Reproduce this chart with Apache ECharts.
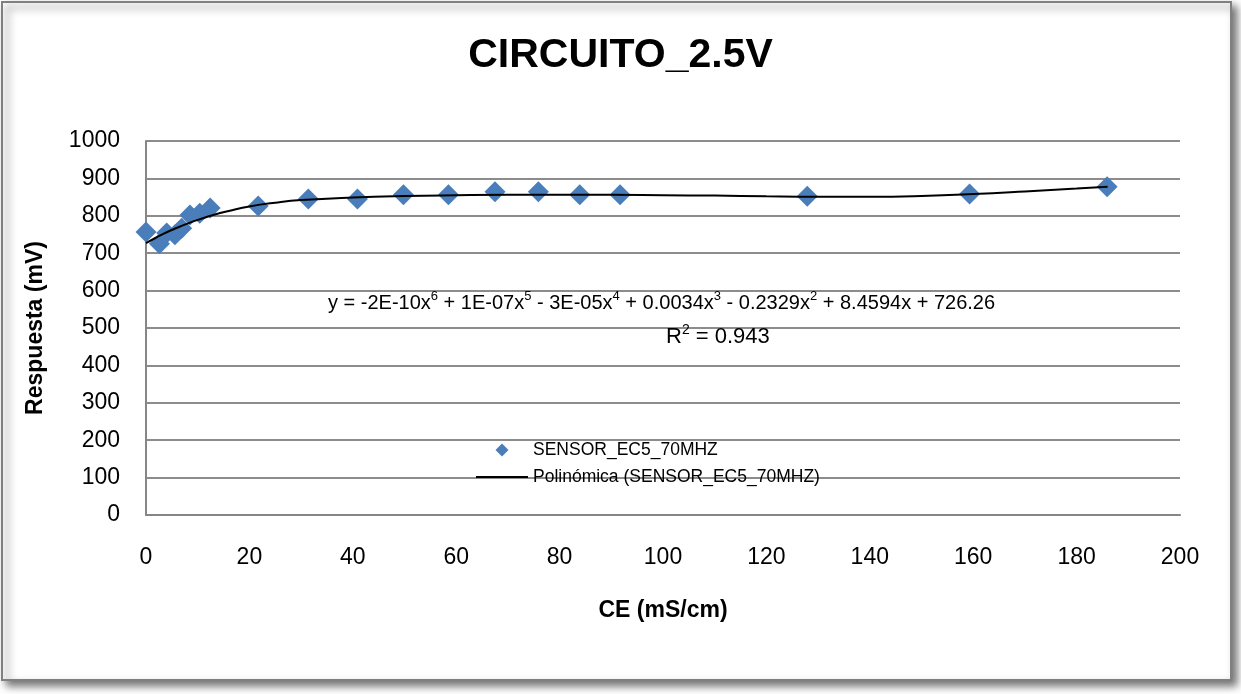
<!DOCTYPE html>
<html>
<head>
<meta charset="utf-8">
<script src="https://cdn.jsdelivr.net/npm/echarts@6/dist/echarts.min.js"></script>
<style>
html,body{margin:0;padding:0;background:#fff;}
#chart{width:1241px;height:694px;}
</style>
</head>
<body>
<div id="chart"></div>
<script>
// ---- data ----
const titleText = 'CIRCUITO_2.5V';
const xAxisName = 'CE (mS/cm)';
const yAxisName = 'Respuesta (mV)';
const seriesName = 'SENSOR_EC5_70MHZ';
const trendName = 'Polinómica (SENSOR_EC5_70MHZ)';
// equation pieces: [text, superscript]
const equationParts = [
  ['y = -2E-10x', '6'], [' + 1E-07x', '5'], [' - 3E-05x', '4'], [' + 0.0034x', '3'],
  [' - 0.2329x', '2'], [' + 8.4594x + 726.26', '']
];
const r2Parts = [['R', '2'], [' = 0.943', '']];

const sensorX = [0, 2.6, 4.0, 5.6, 6.9, 8.5, 10.4, 12.4, 21.7, 31.4, 40.9, 49.8, 58.5, 67.5, 75.9, 83.9, 91.7, 127.9, 159.3, 185.9];
const sensorY = [757, 725, 754, 749, 767, 802, 807, 821, 826, 845, 845, 856, 856, 864, 864, 856, 856, 852, 858, 878];

const trendX = [0, 2, 4, 6, 8, 10, 12, 14, 16, 20, 25, 30, 40, 50, 60, 70, 80, 90, 100, 110, 120, 130, 140, 150, 160, 170, 180, 186];
const trendY = [727, 742, 756, 768, 779, 789, 798, 806, 813, 825, 835, 842, 849, 853, 855, 856, 856, 856, 855, 854, 852, 851, 851, 853, 858, 865, 873, 878];

const xTicks = [0, 20, 40, 60, 80, 100, 120, 140, 160, 180, 200];
const yTicks = [0, 100, 200, 300, 400, 500, 600, 700, 800, 900, 1000];

const FONT = '"Liberation Sans", Arial, sans-serif';
const MARKER = '#4A7EBB';

function richText(parts) {
  return parts.map(p => '{n|' + p[0] + '}' + (p[1] ? '{s|' + p[1] + '}' : '')).join('');
}
function richStyles(size, supSize) {
  return {
    n: {fontFamily: FONT, fontSize: size, fill: '#000', lineHeight: size + 4, verticalAlign: 'bottom'},
    s: {fontFamily: FONT, fontSize: supSize, fill: '#000', lineHeight: size + 4, verticalAlign: 'top', padding: [1, 0, 0, 0]}
  };
}

const chart = echarts.init(document.getElementById('chart'), null, {renderer: 'canvas'});
chart.setOption({
  backgroundColor: '#ffffff',
  animation: false,
  textStyle: {fontFamily: FONT},
  title: {
    text: titleText,
    left: 'center',
    top: 30,
    textStyle: {fontFamily: FONT, fontSize: 41, fontWeight: 'bold', color: '#000'}
  },
  graphic: [
    {
      type: 'rect', z: -10, silent: true,
      shape: {x: 2, y: 2, width: 1229, height: 678},
      style: {fill: '#ffffff', stroke: '#808080', lineWidth: 2,
        shadowColor: 'rgba(0,0,0,0.55)', shadowBlur: 8, shadowOffsetX: 5, shadowOffsetY: 5}
    },
    {
      type: 'text', left: 328, top: 289, z: 10,
      style: {text: richText(equationParts), rich: richStyles(20, 13)}
    },
    {
      type: 'text', left: 666, top: 322, z: 10,
      style: {text: richText(r2Parts), rich: richStyles(22, 14)}
    }
  ],
  legend: {
    orient: 'vertical',
    left: 471,
    top: 436,
    itemWidth: 52,
    itemHeight: 14,
    itemGap: 9,
    data: [
      {name: seriesName, icon: 'path://M0,6.5L0,6.5M52,6.5L52,6.5M26,0L32.5,6.5L26,13L19.5,6.5Z', itemStyle: {color: MARKER, opacity: 1}},
      {name: trendName, icon: 'path://M0,0L0,0M0,5.5L52,5.5L52,7.5L0,7.5ZM52,13L52,13', itemStyle: {color: '#000'}}
    ],
    textStyle: {fontFamily: FONT, fontSize: 17.5, color: '#000'}
  },
  grid: {left: 146, right: 61, top: 141, bottom: 179, containLabel: false},
  xAxis: {
    type: 'value', min: xTicks[0], max: xTicks[xTicks.length - 1], interval: xTicks[1] - xTicks[0],
    name: xAxisName, nameLocation: 'middle', nameGap: 84,
    nameTextStyle: {fontFamily: FONT, fontSize: 23, fontWeight: 'bold', color: '#000'},
    axisLine: {show: true, onZero: false, lineStyle: {color: '#868686', width: 2}},
    axisTick: {show: false},
    splitLine: {show: false},
    axisLabel: {fontFamily: FONT, fontSize: 23, color: '#000', margin: 31, formatter: v => String(v)}
  },
  yAxis: {
    type: 'value', min: yTicks[0], max: yTicks[yTicks.length - 1], interval: yTicks[1] - yTicks[0],
    name: yAxisName, nameLocation: 'middle', nameGap: 99, nameRotate: 90,
    nameTextStyle: {fontFamily: FONT, fontSize: 23, fontWeight: 'bold', color: '#000'},
    axisLine: {show: true, lineStyle: {color: '#868686', width: 2}},
    axisTick: {show: false},
    splitLine: {show: true, lineStyle: {color: '#8c8c8c', width: 2}},
    axisLabel: {fontFamily: FONT, fontSize: 23, color: '#000', margin: 26, formatter: v => String(v)}
  },
  series: [
    {
      name: seriesName,
      type: 'scatter',
      symbol: 'diamond',
      symbolSize: 21,
      itemStyle: {color: MARKER, opacity: 1},
      z: 2,
      data: sensorX.map((x, i) => [x, sensorY[i]])
    },
    {
      name: trendName,
      type: 'line',
      smooth: true,
      showSymbol: false,
      symbol: 'none',
      lineStyle: {color: '#000', width: 2},
      itemStyle: {color: '#000'},
      z: 3,
      data: trendX.map((x, i) => [x, trendY[i]])
    }
  ]
});
</script>
</body>
</html>
